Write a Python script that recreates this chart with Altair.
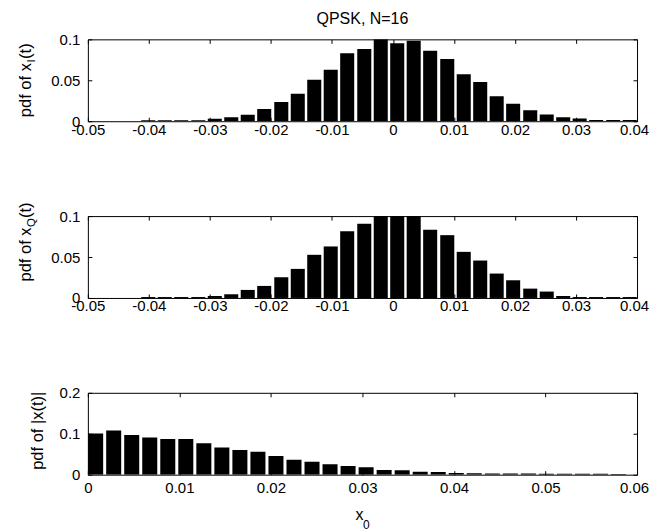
import altair as alt
import pandas as pd

# ---- data ----
bins_iq = [-0.0401, -0.0374, -0.0347, -0.0319, -0.0292, -0.0265, -0.0238, -0.0211,
           -0.0183, -0.0156, -0.0129, -0.0102, -0.0075, -0.0047, -0.0020, 0.0007,
           0.0034, 0.0061, 0.0089, 0.0116, 0.0143, 0.0170, 0.0197, 0.0225,
           0.0252, 0.0279, 0.0306, 0.0333, 0.0361, 0.0388]
pdf_xi = [0.0012, 0.0012, 0.0012, 0.0012, 0.003, 0.005, 0.008, 0.015, 0.0235, 0.0336,
          0.0506, 0.0628, 0.083, 0.0883, 0.1, 0.0951, 0.0984, 0.0862, 0.0761, 0.0575,
          0.0478, 0.0304, 0.0215, 0.0134, 0.0081, 0.0049, 0.0032, 0.0016, 0.0016, 0.0016]
pdf_xq = [0.0012, 0.0012, 0.0012, 0.0012, 0.0024, 0.0045, 0.0098, 0.0147, 0.0253, 0.0355,
          0.0527, 0.0629, 0.0816, 0.0906, 0.1, 0.1, 0.1, 0.0833, 0.0767, 0.0563,
          0.0457, 0.0298, 0.0216, 0.0114, 0.0078, 0.0024, 0.0012, 0.0012, 0.0012, 0.0012]
bins_abs = [0.00085, 0.00282, 0.00479, 0.00676, 0.00873, 0.0107, 0.01267, 0.01464,
            0.01661, 0.01858, 0.02055, 0.02252, 0.02449, 0.02646, 0.02843, 0.0304,
            0.03237, 0.03434, 0.03631, 0.03828, 0.04025, 0.04222, 0.04419, 0.04616,
            0.04813, 0.0501, 0.05207, 0.05404, 0.05601, 0.05798]
pdf_abs = [0.1004, 0.1078, 0.0971, 0.0906, 0.0873, 0.0873, 0.0767, 0.0661, 0.0604, 0.0563,
           0.0457, 0.0367, 0.0318, 0.0253, 0.021, 0.018, 0.0114, 0.0110, 0.0070, 0.0068,
           0.004, 0.0035, 0.003, 0.003, 0.0028, 0.0025, 0.0025, 0.002, 0.002, 0.0015]

xticks_iq = [-0.05, -0.04, -0.03, -0.02, -0.01, 0, 0.01, 0.02, 0.03, 0.04]
xticks_abs = [0, 0.01, 0.02, 0.03, 0.04, 0.05, 0.06]
yticks_iq = [0, 0.05, 0.1]
yticks_abs = [0, 0.1, 0.2]

TITLE = "QPSK, N=16"

# ---- style ----
W, H = 550, 82
FONT = "Liberation Sans"
TICK_FS = 15
LBL_FS = 16
YT_FS = 16.5
SUB_FS = 11.5
TL = 4


def txt(s, x, y, size, align="center", angle=0, dx=0, dy=0, baseline="alphabetic"):
    return alt.Chart(pd.DataFrame({"t": [s]})).mark_text(
        align=align, baseline=baseline, angle=angle, dx=dx, dy=dy,
        font=FONT, fontSize=size, color="black"
    ).encode(text="t:N", x=alt.value(x), y=alt.value(y))


def panel(centers, values, halfw, xdom, xticks, ydom, yticks, ytitle_layers,
          xlabel_pad, extra=None, title=None):
    df = pd.DataFrame({"c": centers, "v": values})
    xs = alt.Scale(domain=xdom, nice=False, zero=False)
    ys = alt.Scale(domain=ydom, nice=False, zero=False)
    lab = "toString(datum.value)"
    last = xticks[-1]
    bars = alt.Chart(df).transform_calculate(
        lo=f"datum.c - {halfw}", hi=f"datum.c + {halfw}"
    ).mark_rect(color="black", clip=True).encode(
        x=alt.X("lo:Q", scale=xs, axis=alt.Axis(
            values=xticks, labelExpr=lab, ticks=False, domain=False, grid=False,
            title=None, labelPadding=xlabel_pad, labelFlush=False, labelOverlap=False,
            labelOffset={"condition": {"test": f"datum.value == {last}", "value": -3},
                         "value": 0},
            labelFont=FONT, labelFontSize=TICK_FS, labelColor="black")),
        x2="hi:Q",
        y=alt.Y("v:Q", scale=ys, axis=alt.Axis(
            values=yticks, labelExpr=lab, ticks=False, domain=False, grid=False,
            title=None, labelPadding=8, labelFlush=False, labelOverlap=False,
            labelFont=FONT, labelFontSize=TICK_FS, labelColor="black")),
        y2=alt.datum(0),
    )
    t1 = alt.Chart(df).mark_point(opacity=0).encode(
        x=alt.X("c:Q", scale=xs, axis=alt.Axis(
            orient="top", offset=-H, values=xticks, labels=False, domain=False,
            grid=False, title=None, tickSize=TL, tickColor="black")),
        y=alt.Y("v:Q", scale=ys, axis=alt.Axis(
            orient="right", offset=-W, values=yticks, labels=False, domain=False,
            grid=False, title=None, tickSize=TL, tickColor="black")),
    )
    t2 = alt.Chart(df).mark_point(opacity=0).encode(
        x=alt.X("c:Q", scale=xs, axis=alt.Axis(
            orient="bottom", offset=-H, values=xticks, labels=False, domain=False,
            grid=False, title=None, tickSize=TL, tickColor="black")),
        y=alt.Y("v:Q", scale=ys, axis=alt.Axis(
            orient="left", offset=-W, values=yticks, labels=False, domain=False,
            grid=False, title=None, tickSize=TL, tickColor="black")),
    )
    layers = [bars, t1, t2] + ytitle_layers + (extra or [])
    ch = alt.layer(*layers).resolve_axis(x="independent", y="independent").properties(
        width=W, height=H)
    if title:
        ch = ch.properties(title=alt.Title(title, font=FONT, fontSize=LBL_FS,
                                           fontWeight="normal", color="black", offset=5))
    return ch


YX = -57
yt1 = [
    txt("pdf of x", YX, H / 2, YT_FS, align="right", angle=270, dx=17.2),
    txt("I", YX, H / 2, SUB_FS, align="left", angle=270, dx=17.9, dy=4),
    txt("(t)", YX, H / 2, YT_FS, align="left", angle=270, dx=21.4),
]
Y2 = H / 2 - 15
yt2 = [
    txt("pdf of x", YX, Y2, YT_FS, align="right", angle=270, dx=14.6),
    txt("Q", YX, Y2, SUB_FS, align="left", angle=270, dx=15.0, dy=4),
    txt("(t)", YX, Y2, YT_FS, align="left", angle=270, dx=24.0),
]
yt3 = [txt("pdf of |x(t)|", -45, H / 2 - 3, YT_FS, align="center", angle=270)]
xl3 = [
    txt("x", W / 2 + 1, H + 45, LBL_FS, align="right"),
    txt("0", W / 2 + 0.5, H + 54, 12, align="left"),
]

p1 = panel(bins_iq, pdf_xi, 0.00115, [-0.05, 0.04], xticks_iq, [0, 0.1], yticks_iq,
           yt1, 1, title=TITLE)
p2 = panel(bins_iq, pdf_xq, 0.00115, [-0.05, 0.04], xticks_iq, [0, 0.1], yticks_iq,
           yt2, 1)
p3 = panel(bins_abs, pdf_abs, 0.00082, [0, 0.06], xticks_abs, [0, 0.2], yticks_abs,
           yt3, 6, extra=xl3)

chart = alt.vconcat(p1, p2, p3, spacing=95, bounds="flush").configure_view(
    stroke="black", strokeWidth=1
).properties(padding={"left": 9, "top": 2, "right": 0, "bottom": 0})

chart.save("out.html", embed_options={"renderer": "svg", "actions": False})
